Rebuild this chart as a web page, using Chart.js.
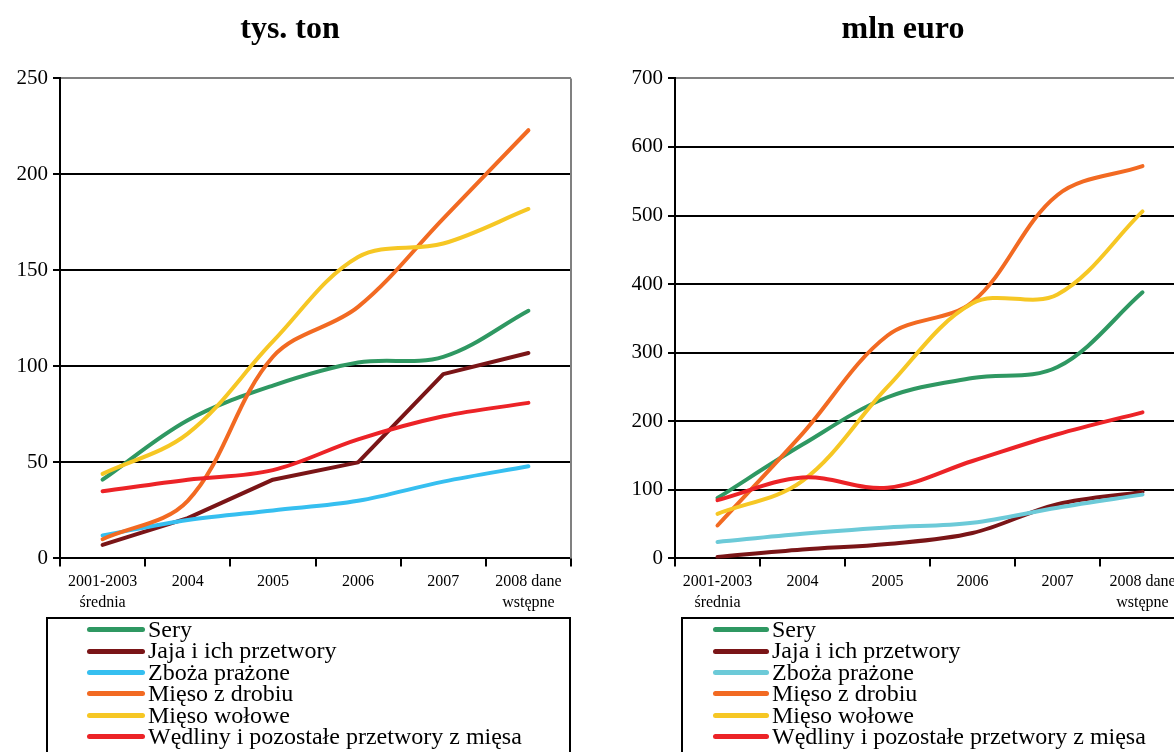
<!DOCTYPE html>
<html lang="pl">
<head>
<meta charset="utf-8">
<title>Eksport – tys. ton / mln euro</title>
<script src="https://cdn.jsdelivr.net/npm/chart.js@4.4.1/dist/chart.umd.min.js"></script>
<style>
  html, body { margin: 0; padding: 0; background: #ffffff; }
  body { width: 1174px; height: 752px; overflow: hidden; position: relative; font-family: "Liberation Serif", "Times New Roman", serif; }
  .panel { position: absolute; top: 0; }
  .panel canvas { display: block; }
  #panelTon { left: 0; }
  #panelEuro { left: 614px; }
  .legenda { position: absolute; top: 617px; height: 160px; border: 2px solid #000; box-sizing: border-box; background: #fff; }
  #legendaTon { left: 46px; width: 525px; padding-left: 39px; }
  #legendaEuro { left: 681px; width: 600px; padding-left: 30px; }
  .legenda-wiersz { display: flex; align-items: center; height: 21.4px; font-size: 24px; line-height: 21.4px; color: #000; white-space: nowrap; }
  .legenda-linia { height: 5px; border-radius: 3px; margin-right: 3px; flex: none; }
</style>
</head>
<body>
<div class="panel" id="panelTon"><canvas id="wykresTon" width="590" height="618"></canvas></div>
<div class="panel" id="panelEuro"><canvas id="wykresEuro" width="590" height="618"></canvas></div>
<div class="legenda" id="legendaTon"></div>
<div class="legenda" id="legendaEuro"></div>

<script>
/* ---------- dane ---------- */
var KATEGORIE = [["2001-2003", "średnia"], "2004", "2005", "2006", "2007", ["2008 dane", "wstępne"]];
var SERIE = ["Sery", "Jaja i ich przetwory", "Zboża prażone", "Mięso z drobiu", "Mięso wołowe", "Wędliny i pozostałe przetwory z mięsa"];

/* tys. ton */
var SERY_TON = [41, 72, 90, 102, 105, 129];
var JAJA_TON = [7, 21, 41, 50, 96, 107];
var ZBOZA_TON = [12, 20, 25, 30, 40, 48];
var DROB_TON = [10, 30, 105, 131, 177, 223];
var WOLOWE_TON = [44, 65, 113, 157, 164, 182];
var WEDLINY_TON = [35, 41, 46, 62, 74, 81];
var TICKI_TON = [0, 50, 100, 150, 200, 250];

/* mln euro */
var SERY_EUR = [88, 166, 235, 263, 279, 388];
var JAJA_EUR = [2, 13, 21, 37, 79, 97];
var ZBOZA_EUR = [24, 36, 45, 52, 74, 93];
var DROB_EUR = [48, 182, 325, 374, 530, 572];
var WOLOWE_EUR = [65, 113, 250, 372, 385, 506];
var WEDLINY_EUR = [85, 118, 103, 142, 181, 213];
var TICKI_EUR = [0, 100, 200, 300, 400, 500, 600, 700];

(function () {
  var FONT = '"Liberation Serif", "Times New Roman", serif';
  var KOLORY_TON = ["#2f9862", "#7a1517", "#36bff0", "#f26a22", "#f6c724", "#ec2327"];
  var KOLORY_EUR = ["#2f9862", "#7a1517", "#6ccad8", "#f26a22", "#f6c724", "#ec2327"];

  /* ---------- prawa ramka (szara) ---------- */
  var ramka = {
    id: "ramka",
    beforeDatasetsDraw: function (chart) {
      var a = chart.chartArea;
      var ctx = chart.ctx;
      ctx.save();
      ctx.strokeStyle = "#808080";
      ctx.lineWidth = 2;
      ctx.beginPath();
      ctx.moveTo(a.right, a.top);
      ctx.lineTo(a.right, a.bottom);
      ctx.stroke();
      ctx.restore();
    }
  };

  /* ---------- wykres ---------- */
  function rysuj(id, tytul, serie, kolory, ticki, napiecia, padL, szerY) {
    var max = ticki[ticki.length - 1];
    var datasets = serie.map(function (dane, i) {
      return {
        label: SERIE[i],
        data: dane,
        borderColor: kolory[i],
        backgroundColor: kolory[i],
        borderWidth: 4,
        borderCapStyle: "round",
        borderJoinStyle: "round",
        pointRadius: 0,
        tension: napiecia[i],
        fill: false,
        order: -i
      };
    });

    new Chart(document.getElementById(id), {
      type: "line",
      data: { labels: KATEGORIE, datasets: datasets },
      plugins: [ramka],
      options: {
        responsive: false,
        animation: false,
        devicePixelRatio: 1,
        layout: { padding: { left: padL, right: 19, top: 0, bottom: 0 } },
        scales: {
          x: {
            type: "category",
            offset: true,
            grid: { display: true, drawOnChartArea: false, drawTicks: true, tickLength: 8, color: "#000", lineWidth: 2, offset: true },
            border: { display: true, color: "#000", width: 2 },
            ticks: { color: "#000", font: { family: FONT, size: 16, lineHeight: 1.3 }, padding: 5, maxRotation: 0, autoSkip: false }
          },
          y: {
            min: 0,
            max: max,
            afterBuildTicks: function (s) {
              s.ticks = ticki.map(function (v) { return { value: v }; });
            },
            ticks: { color: "#000", font: { family: FONT, size: 21 }, padding: 5 },
            grid: {
              lineWidth: 2,
              tickLength: 7,
              tickColor: "#000",
              color: function (c) {
                return c.tick && c.tick.value === max ? "#808080" : "#000";
              }
            },
            border: { display: true, color: "#000", width: 2 },
            afterFit: function (s) { s.width = szerY; }
          }
        },
        plugins: {
          legend: { display: false },
          tooltip: { enabled: false },
          title: {
            display: true,
            text: tytul,
            color: "#000",
            font: { family: FONT, size: 32, weight: "bold", lineHeight: 1.2 },
            padding: { top: 11, bottom: 29 }
          }
        }
      }
    });
  }

  /* ---------- legenda ---------- */
  function legenda(id, kolory, dlugosc) {
    var box = document.getElementById(id);
    SERIE.forEach(function (nazwa, i) {
      var w = document.createElement("div");
      w.className = "legenda-wiersz";
      var l = document.createElement("span");
      l.className = "legenda-linia";
      l.style.width = dlugosc + "px";
      l.style.background = kolory[i];
      var t = document.createElement("span");
      t.textContent = nazwa;
      w.appendChild(l);
      w.appendChild(t);
      box.appendChild(w);
    });
  }

  function init() {
    rysuj("wykresTon", "tys. ton",
      [SERY_TON, JAJA_TON, ZBOZA_TON, DROB_TON, WOLOWE_TON, WEDLINY_TON],
      KOLORY_TON, TICKI_TON, [0.35, 0, 0.35, 0.35, 0.35, 0.35], 9, 51);
    rysuj("wykresEuro", "mln euro",
      [SERY_EUR, JAJA_EUR, ZBOZA_EUR, DROB_EUR, WOLOWE_EUR, WEDLINY_EUR],
      KOLORY_EUR, TICKI_EUR, [0.35, 0.35, 0.35, 0.35, 0.35, 0.35], 7, 54);
    legenda("legendaTon", KOLORY_TON, 58);
    legenda("legendaEuro", KOLORY_EUR, 56);
  }

  if (document.readyState === "loading") {
    document.addEventListener("DOMContentLoaded", init);
  } else {
    init();
  }
})();
</script>
</body>
</html>
